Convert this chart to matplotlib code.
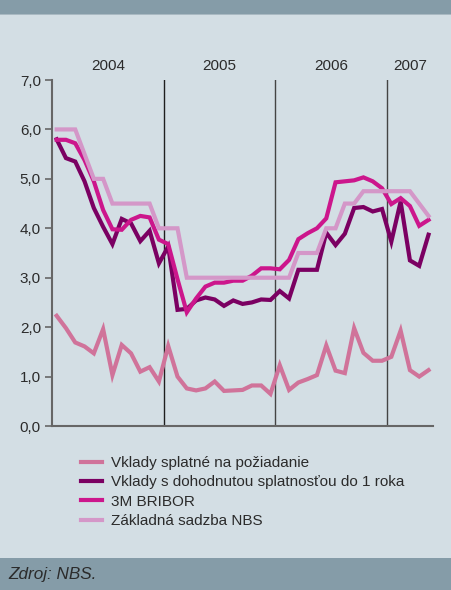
import matplotlib
matplotlib.use("Agg")
import matplotlib.pyplot as plt
import matplotlib.transforms as mtransforms

# monthly data, Jan 2004 - May 2007
months = list(range(41))
years = ["2004", "2005", "2006", "2007"]

vklady_splatne = [2.23, 1.98, 1.69, 1.61, 1.47, 1.96, 1.03, 1.64, 1.47, 1.10,
                  1.19, 0.90, 1.62, 1.00, 0.76, 0.72, 0.76, 0.90, 0.71, 0.72,
                  0.73, 0.82, 0.82, 0.65, 1.23, 0.73, 0.88, 0.95, 1.03, 1.63,
                  1.12, 1.07, 1.98, 1.48, 1.32, 1.32, 1.40, 1.93, 1.13, 1.00,
                  1.13]
vklady_1rok = [5.80, 5.42, 5.35, 4.95, 4.41, 4.03, 3.68, 4.19, 4.10, 3.74,
               3.95, 3.29, 3.63, 2.35, 2.37, 2.54, 2.60, 2.56, 2.43, 2.54,
               2.47, 2.50, 2.56, 2.55, 2.73, 2.58, 3.16, 3.16, 3.16, 3.91,
               3.66, 3.89, 4.41, 4.43, 4.34, 4.39, 3.73, 4.54, 3.35, 3.24,
               3.87]
bribor = [5.79, 5.79, 5.72, 5.38, 4.95, 4.37, 3.98, 3.97, 4.17, 4.25,
          4.22, 3.77, 3.68, 2.97, 2.30, 2.58, 2.82, 2.90, 2.90, 2.94,
          2.94, 3.04, 3.19, 3.19, 3.17, 3.36, 3.78, 3.90, 4.00, 4.20,
          4.93, 4.95, 4.97, 5.03, 4.95, 4.81, 4.49, 4.61, 4.45, 4.05,
          4.17]
sadzba_nbs = [6.0, 6.0, 6.0, 5.5, 5.0, 5.0, 4.5, 4.5, 4.5, 4.5,
              4.5, 4.0, 4.0, 4.0, 3.0, 3.0, 3.0, 3.0, 3.0, 3.0,
              3.0, 3.0, 3.0, 3.0, 3.0, 3.0, 3.5, 3.5, 3.5, 4.0,
              4.0, 4.5, 4.5, 4.75, 4.75, 4.75, 4.75, 4.75, 4.75, 4.5,
              4.25]

labels = ["Vklady splatné na požiadanie",
          "Vklady s dohodnutou splatnosťou do 1 roka",
          "3M BRIBOR",
          "Základná sadzba NBS"]
colors = ["#D0739A", "#7B0062", "#CC168C", "#D497C8"]

bg = "#D3DEE4"
band = "#859CA8"
txt = "#2B2B2B"

plt.rcParams['font.family'] = ['Liberation Sans', 'DejaVu Sans']

fig = plt.figure(figsize=(4.51, 5.90), dpi=100, facecolor=bg)

# header / footer bands
fig.patches.append(plt.Rectangle((0, 1 - 14/590), 1, 14/590, transform=fig.transFigure,
                                 facecolor=band, edgecolor="none"))
fig.patches.append(plt.Rectangle((0, 1 - 15/590), 1, 1.2/590, transform=fig.transFigure,
                                 facecolor="#A9B9C2", edgecolor="none"))
fig.patches.append(plt.Rectangle((0, 0), 1, 32/590, transform=fig.transFigure,
                                 facecolor=band, edgecolor="none"))
fig.text(8/451, 15/590, "Zdroj: NBS.", fontsize=12.3, style="italic", color=txt,
         va="center", ha="left")

ax = fig.add_axes([52/451, 164/590, 380.7/451, 346/590])
ax.set_facecolor(bg)

all_series = [vklady_splatne, vklady_1rok, bribor, sadzba_nbs]
for k in [3, 0, 1, 2]:
    ax.plot(months, all_series[k], color=colors[k], lw=3, label=labels[k],
            solid_joinstyle="miter", zorder=3 + k)

for b, c in zip([11.5, 23.5, 35.5], ["#1E1E1E", "#444444", "#444444"]):
    ax.axvline(b, color=c, lw=1, zorder=2)

ax.set_xlim(-0.5, 40.45)
ax.set_ylim(0, 7)
ax.set_yticks([0, 1, 2, 3, 4, 5, 6, 7])
ax.set_yticklabels(["0,0", "1,0", "2,0", "3,0", "4,0", "5,0", "6,0", "7,0"])
ax.set_xticks([])
ax.tick_params(axis="y", length=5, width=1.2, color="#666666", labelcolor=txt,
               labelsize=11, pad=3)
for s in ["top", "right"]:
    ax.spines[s].set_visible(False)
for s in ["left", "bottom"]:
    ax.spines[s].set_color("#666666")
    ax.spines[s].set_linewidth(1.5)

trans = mtransforms.blended_transform_factory(ax.transData, ax.transAxes)
for yr, xc in zip(years, [5.5, 17.5, 29.5, 38.0]):
    ax.text(xc, 1.041, yr, transform=trans, ha="center", va="center",
            fontsize=11, color=txt)

handles, lbls = ax.get_legend_handles_labels()
hmap = dict(zip(lbls, handles))
leg = fig.legend([hmap[l] for l in labels], labels, loc="upper left",
                 bbox_to_anchor=(81/451, 1 - 456/590), frameon=False,
                 fontsize=11, handlelength=1.35, handletextpad=0.6,
                 labelspacing=0.35, borderpad=0, borderaxespad=0)
for t in leg.get_texts():
    t.set_color(txt)

fig.savefig("out.png", dpi=100, facecolor=bg)
